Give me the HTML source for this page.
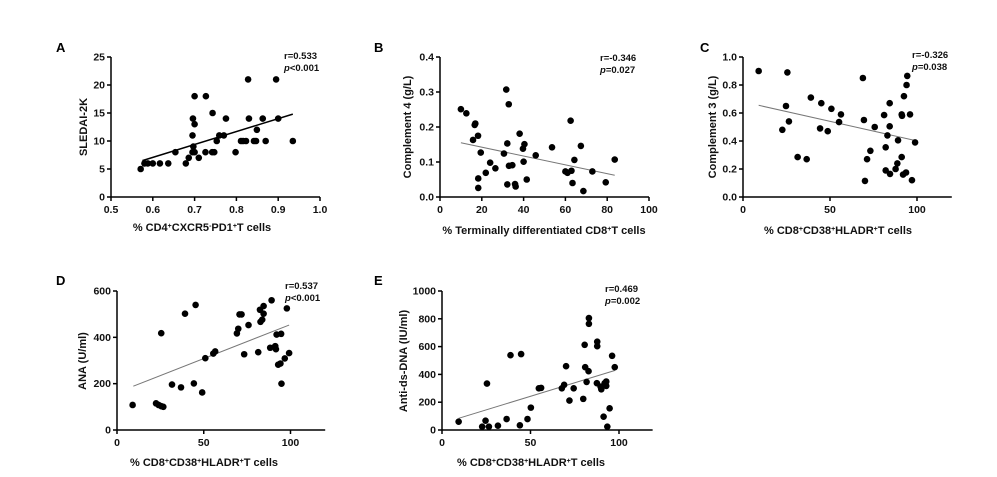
<!DOCTYPE html>
<html><head><meta charset="utf-8"><style>
body{margin:0;background:#fff;}
svg{display:block;font-family:"Liberation Sans",Arial,sans-serif;font-weight:bold;}
</style></head><body>
<svg id="fig" width="997" height="477" viewBox="0 0 997 477" xmlns="http://www.w3.org/2000/svg"></svg>
<script>
// Panel A data
const aX=[0.571,0.58,0.588,0.60,0.617,0.637,0.654,0.679,0.686,0.695,0.695,0.696,0.697,0.70,0.70,0.70,0.71,0.726,0.727,0.742,0.747,0.743,0.753,0.759,0.77,0.775,0.798,0.811,0.816,0.823,0.828,0.83,0.842,0.847,0.849,0.863,0.87,0.895,0.90,0.935];
const aY=[5,6,6,6,6,6,8,6,7,8,11,14,9,8,18,13,7,8,18,8,8,15,10,11,11,14,8,10,10,10,21,14,10,10,12,14,10,21,14,10];
const aFit=[[0.575,6.5],[0.935,14.8]];
const aXTicks=[0.5,0.6,0.7,0.8,0.9,1.0];
const aXTickLabels=["0.5","0.6","0.7","0.8","0.9","1.0"];
const aYTicks=[0,5,10,15,20,25];
// Panel B data
const bX=[10,12.6,15.8,16.6,16.9,18.2,18.3,18.3,19.5,21.9,24,26.5,30.6,31.7,32.2,32.2,32.9,33,34.6,35.9,36.2,38.1,39.7,40.4,40,41.5,45.8,53.6,60,61,62.5,62.9,63.4,64.3,67.4,68.6,72.9,79.3,83.6];
const bY=[0.251,0.239,0.163,0.206,0.21,0.175,0.053,0.026,0.127,0.069,0.098,0.082,0.124,0.307,0.153,0.036,0.265,0.089,0.091,0.037,0.03,0.181,0.138,0.151,0.101,0.05,0.119,0.142,0.073,0.069,0.218,0.075,0.04,0.106,0.146,0.017,0.073,0.042,0.107];
const bFit=[[10,0.155],[83.6,0.062]];
const bXTicks=[0,20,40,60,80,100];
const bYTicks=[0,0.1,0.2,0.3,0.4];
const bYTickLabels=["0.0","0.1","0.2","0.3","0.4"];
// Panel C data
const cX=[9,25.5,24.7,22.6,26.4,31.4,36.6,39,45,44.3,48.7,50.8,56.3,55.2,68.9,69.5,70.1,71.3,73.2,75.7,81.1,82,82,83,84.3,84.3,84.5,87.7,88.7,89.1,91.2,91.2,91.4,92,92.5,93.7,94,94.4,96,97.1,98.9];
const cY=[0.90,0.89,0.65,0.48,0.54,0.285,0.27,0.71,0.67,0.49,0.47,0.63,0.59,0.535,0.85,0.55,0.115,0.27,0.33,0.50,0.585,0.355,0.19,0.44,0.505,0.67,0.165,0.2,0.24,0.405,0.285,0.59,0.58,0.16,0.72,0.175,0.80,0.865,0.59,0.12,0.39];
const cFit=[[9,0.655],[99.6,0.402]];
const cXTicks=[0,50,100];
const cYTicks=[0,0.2,0.4,0.6,0.8,1.0];
const cYTickLabels=["0.0","0.2","0.4","0.6","0.8","1.0"];
// Panel D data
const dX=[9,22.5,24,25.5,26.7,25.5,31.7,36.9,39.2,44.3,45.3,49.1,50.9,55.5,56.6,69.1,69.9,70.6,71.8,73.3,75.8,81.4,82.4,82.7,83.7,84.5,84.5,88.3,89.1,91.6,91.2,92,92.9,94.2,94.6,94.8,96.7,97.9,99.2];
const dY=[108,115,108,103,100,418,196,184,502,201,540,162,310,330,339,417,437,499,499,327,453,336,519,467,476,502,535,355,560,349,362,412,282,287,415,200,309,525,332];
const dFit=[[9.4,189],[99.2,453]];
const dXTicks=[0,50,100];
const dYTicks=[0,200,400,600];
// Panel E data
const eX=[9.4,22.7,24.6,25.4,26.5,31.6,36.5,38.7,44,44.7,48.3,50.2,54.7,56,67.7,69,70.1,72,74.4,79.8,80.6,80.9,81.7,82.8,83,83,87.5,87.7,87.7,89.6,90,91.3,91.9,92.8,92.8,93.4,94.7,96.1,97.6];
const eY=[60,24,67,334,24,31,79,538,34,546,79,161,300,303,300,325,459,212,300,224,613,452,346,423,764,805,337,603,635,312,293,96,337,349,317,24,156,534,452];
const eFit=[[9.4,84],[97.6,428]];
const eXTicks=[0,50,100];
const eYTicks=[0,200,400,600,800,1000];

const NS="http://www.w3.org/2000/svg";
const svg=document.getElementById('fig');
function mk(tag,attrs,parent){const e=document.createElementNS(NS,tag);for(const k in attrs)e.setAttribute(k,attrs[k]);(parent||svg).appendChild(e);return e;}

function panel(o){
  const g=mk('g',{});
  
  
  const sx=v=>o.px0+(v-o.xmin)/(o.xmax-o.xmin)*(o.px1-o.px0);
  const sy=v=>o.py0-(v-o.ymin)/(o.ymax-o.ymin)*(o.py0-o.py1);
  const xEnd=sx(o.xAxisEnd!==undefined?o.xAxisEnd:o.xmax);
  const xa=mk('line',{x1:o.px0,y1:o.py0,x2:xEnd,y2:o.py0,stroke:'#000','stroke-width':1.5},g);
  
  
  const ya=mk('line',{x1:o.px0,y1:o.py0,x2:o.px0,y2:o.py1,stroke:'#000','stroke-width':1.5},g);
  
  
  o.xt.forEach((v,i)=>{
    const x=sx(v);
    mk('line',{x1:x,y1:o.py0,x2:x,y2:o.py0+4,stroke:'#000','stroke-width':1.5},g);
    const t=mk('text',{x:x,y:o.py0+16,'text-anchor':'middle','font-size':10.5,fill:'#111'},g);
    t.textContent=o.xtl?o.xtl[i]:String(v);
    
    
  });
  o.yt.forEach((v,i)=>{
    const y=sy(v);
    mk('line',{x1:o.px0-4,y1:y,x2:o.px0,y2:y,stroke:'#000','stroke-width':1.5},g);
    const t=mk('text',{x:o.px0-6,y:y+3.5,'text-anchor':'end','font-size':10.5,fill:'#111'},g);
    t.textContent=o.ytl?o.ytl[i]:String(v);
    
    
  });
  const fl=mk('line',{x1:sx(o.fit[0][0]),y1:sy(o.fit[0][1]),x2:sx(o.fit[1][0]),y2:sy(o.fit[1][1]),stroke:o.fitColor,'stroke-width':o.fitW},g);
  
  
  o.xs.forEach((v,i)=>{
    const c=mk('circle',{cx:sx(v),cy:sy(o.ys[i]),r:3.3,fill:'#000'},g);
    
    
  });
  const L=mk('text',{x:o.letter[0],y:o.letter[1],'font-size':13,fill:'#000'},g);
  L.textContent=o.id.toUpperCase();
  
  
  const r=mk('text',{x:o.stat[0],y:o.stat[1],'font-size':9.5,fill:'#111'},g);
  r.textContent=o.r;
  
  
  const p=mk('text',{x:o.stat[0],y:o.stat[1]+12,'font-size':9.5,fill:'#111'},g);
  p.innerHTML='<tspan font-style="italic">p</tspan>'+o.p;
  
  
  const xl=mk('text',{x:o.xlab[0],y:o.xlab[1],'text-anchor':'middle','font-size':11,fill:'#111'},g);
  xl.innerHTML=o.xlabel;
  
  
  const yl=mk('text',{x:0,y:0,'text-anchor':'middle','font-size':11,fill:'#111',transform:`translate(${o.ylab[0]},${o.ylab[1]}) rotate(-90)`},g);
  yl.textContent=o.ylabel;
  
  
}
const sup=s=>`<tspan baseline-shift="super" font-size="7">${s}</tspan>`;
const cd8lab=`% CD8${sup('+')}CD38${sup('+')}HLADR${sup('+')}T cells`;
panel({id:'a',xs:aX,ys:aY,fit:aFit,xt:aXTicks,xtl:aXTickLabels,yt:aYTicks,xmin:0.5,xmax:1.0,ymin:0,ymax:25,px0:111,px1:320,py0:197,py1:57,fitColor:'#000',fitW:1.5,letter:[56,52],stat:[284,59],r:'r=0.533',p:'<0.001',xlab:[202,231],xlabel:`% CD4${sup('+')}CXCR5${sup('-')}PD1${sup('+')}T cells`,ylab:[87,127],ylabel:'SLEDAI-2K'});
panel({id:'b',xs:bX,ys:bY,fit:bFit,xt:bXTicks,yt:bYTicks,ytl:bYTickLabels,xmin:0,xmax:100,ymin:0,ymax:0.4,px0:440,px1:649,py0:197,py1:57,fitColor:'#777',fitW:1,letter:[374,52],stat:[600,61],r:'r=-0.346',p:'=0.027',xlab:[544,234],xlabel:`% Terminally differentiated CD8${sup('+')}T cells`,ylab:[411,127],ylabel:'Complement 4 (g/L)'});
panel({id:'c',xs:cX,ys:cY,fit:cFit,xt:cXTicks,yt:cYTicks,ytl:cYTickLabels,xmin:0,xmax:100,ymin:0,ymax:1,px0:743,px1:917,py0:197,py1:57,xAxisEnd:120,fitColor:'#777',fitW:1,letter:[700,52],stat:[912,58],r:'r=-0.326',p:'=0.038',xlab:[838,234],xlabel:cd8lab,ylab:[716,127],ylabel:'Complement 3 (g/L)'});
panel({id:'d',xs:dX,ys:dY,fit:dFit,xt:dXTicks,yt:dYTicks,xmin:0,xmax:100,ymin:0,ymax:600,px0:117,px1:290.5,py0:430,py1:291,xAxisEnd:120,fitColor:'#777',fitW:1,letter:[56,285],stat:[285,289],r:'r=0.537',p:'<0.001',xlab:[204,466],xlabel:cd8lab,ylab:[86,361],ylabel:'ANA (U/ml)'});
panel({id:'e',xs:eX,ys:eY,fit:eFit,xt:eXTicks,yt:eYTicks,xmin:0,xmax:100,ymin:0,ymax:1000,px0:442,px1:619,py0:430,py1:291,xAxisEnd:119,fitColor:'#777',fitW:1,letter:[374,285],stat:[605,292],r:'r=0.469',p:'=0.002',xlab:[531,466],xlabel:cd8lab,ylab:[407,361],ylabel:'Anti-ds-DNA (IU/ml)'});
</script>
</body></html>
